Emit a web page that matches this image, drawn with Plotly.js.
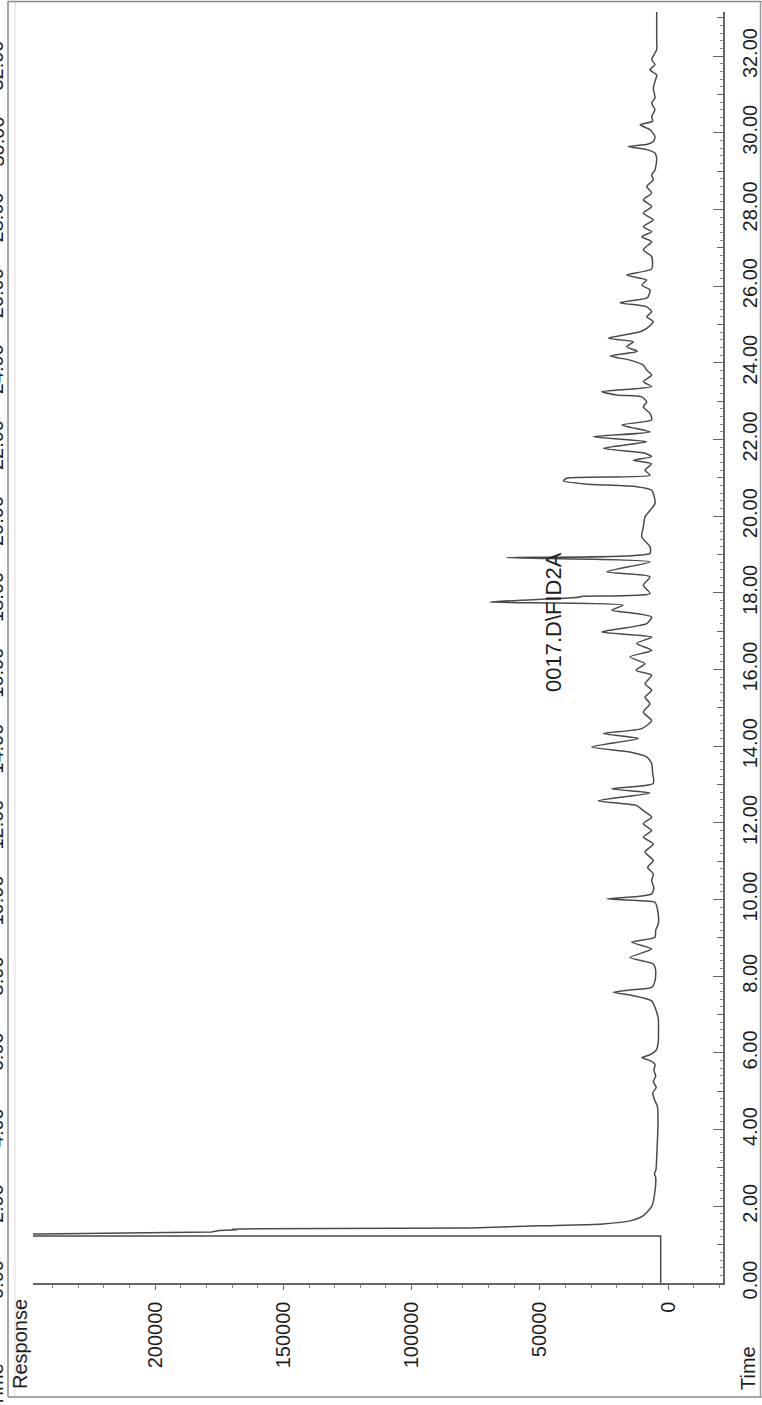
<!DOCTYPE html>
<html>
<head>
<meta charset="utf-8">
<script src="https://cdn.plot.ly/plotly-3.0.1.min.js"></script>
<style>html,body{margin:0;padding:0;background:#fff;}#chart{width:762px;height:1405px;}</style>
</head>
<body>
<div id="chart"></div>
<script>
// ---- data ----
const sampleName = "0017.D\\FID2A";
const timeMin = [
  0, 1.22, 1.226, 1.228, 1.279, 1.33, 1.37, 1.39, 1.40, 1.415, 1.436, 1.49, 1.54, 1.62, 1.75, 2.01, 2.40,
  2.75, 2.85, 2.95, 3.26, 3.6, 4.15, 4.6, 4.75, 4.96, 5.1, 5.25, 5.4, 5.55, 5.70, 5.80, 5.88, 5.94, 6.02, 6.1,
  6.3, 6.6, 6.9, 7.19, 7.36, 7.50, 7.58, 7.64, 7.71, 7.88, 8.15, 8.32, 8.49, 8.71, 8.89, 9.02, 9.2, 9.37, 9.6,
  9.93, 9.97, 10.02, 10.08, 10.15, 10.3, 10.50, 10.67, 10.84, 11.02, 11.24, 11.45, 11.63, 11.80, 11.98, 12.15,
  12.32, 12.45, 12.58, 12.78, 12.89, 13.03, 13.3, 13.55, 13.72, 13.85, 13.98, 14.20, 14.33, 14.46, 14.67, 14.89,
  15.11, 15.28, 15.46, 15.63, 15.85, 15.98, 16.15, 16.33, 16.5, 16.68, 16.85, 16.98, 17.2, 17.37, 17.46, 17.55,
  17.68, 17.76, 17.88, 17.91, 17.98, 18.2, 18.42, 18.55, 18.81, 18.92, 19.03, 19.20, 19.46, 19.72, 19.98, 20.33,
  20.59, 20.68, 20.77, 20.84, 20.92, 20.99, 21.07, 21.2, 21.37, 21.46, 21.55, 21.64, 21.77, 21.94, 22.07, 22.20,
  22.38, 22.51, 22.68, 22.85, 22.98, 23.11, 23.16, 23.25, 23.38, 23.51, 23.68, 23.81, 23.94, 24.07, 24.18, 24.30,
  24.42, 24.55, 24.64, 24.81, 24.90, 25.07, 25.20, 25.33, 25.46, 25.57, 25.70, 25.90, 26.03, 26.16, 26.29, 26.45,
  26.77, 26.95, 27.16, 27.29, 27.42, 27.55, 27.73, 27.90, 28.08, 28.25, 28.43, 28.60, 28.77, 28.90, 29.03, 29.30,
  29.47, 29.56, 29.64, 29.70, 29.77, 29.90, 30.08, 30.21, 30.30, 30.43, 30.60, 30.78, 30.91, 31.17, 31.34, 31.51,
  31.64, 31.78, 31.91, 32.17, 32.43, 32.8, 33.15
];
const response = [
  2850, 2850, 2850, 1500000, 245000, 178000, 175000, 168000, 170000, 160000, 77000, 49900, 25400, 14800, 9750, 6240, 5070,
  4800, 5300, 4700, 4420, 4200, 3900, 4100, 5070, 5970, 4600, 5700, 4800, 5500, 5070, 7000, 10260, 7500, 5400, 4400,
  3780, 3700, 3800, 5070, 6360, 14000, 21330, 15000, 6360, 5070, 4800, 5730, 14820, 6360, 14160, 5070, 4800, 3780, 3780,
  5070, 10000, 23910, 12000, 6360, 5500, 6360, 5730, 7950, 5730, 8970, 5730, 9630, 6360, 9630, 6360,
  9630, 12210, 27180, 7020, 21960, 5730, 6000, 6360, 8310, 14820, 29760, 11580, 25230, 10260, 6360, 9630,
  7020, 8970, 6360, 8970, 6360, 12500, 8970, 14820, 6360, 12210, 6360, 25860, 8310, 6360, 12210, 21960,
  17430, 69420, 36000, 33000, 7020, 9630, 7020, 23910, 7020, 62910, 7020, 7020, 10260, 9630, 8970, 5070,
  5730, 6360, 12210, 32570, 40830, 39500, 7020, 8970, 6360, 13530, 6360, 8970, 25230, 8310, 29130, 7020,
  18000, 6360, 7020, 9630, 8310, 10260, 20010, 25860, 6360, 9630, 6360, 8310, 9630, 14820, 22620, 12000,
  16110, 13530, 23280, 10920, 8310, 5730, 8310, 6360, 8310, 18720, 8000, 7020, 10260, 8310, 16110, 6360,
  6360, 9630, 6360, 10260, 6360, 9630, 5730, 9630, 6360, 9630, 6360, 8310, 5730, 6360, 5070, 4410,
  5070, 8310, 15480, 8000, 5730, 5070, 7020, 10920, 6000, 6360, 5070, 6360, 5070, 5730, 5070, 4410,
  7020, 5070, 6360, 4410, 4410, 4410, 4410
];
const timeTickVals = [0,2,4,6,8,10,12,14,16,18,20,22,24,26,28,30,32];
const timeTickText = ["0.00","2.00","4.00","6.00","8.00","10.00","12.00","14.00","16.00","18.00","20.00","22.00","24.00","26.00","28.00","30.00","32.00"];
const respTickVals = [0,50000,100000,150000,200000];
const respTickText = ["0","50000","100000","150000","200000"];
const responseLabel = "Response";
const timeLabel = "Time";

// ---- layout geometry (pixels) ----
const W = 762, H = 1405;
const L = 33, R = 723, T = 12, B = 1283;
const px2x = p => (p - L) / (R - L);
const py2y = p => (B - p) / (B - T);
const FONT = "Liberation Sans, Arial, sans-serif";
const TXT = "#1e1e1e";
const AX = "#666";
const SPLIT = 10; // solvent front drawn straight, rest smoothed

const traces = [
  {x: response.slice(0, SPLIT + 1), y: timeMin.slice(0, SPLIT + 1), type: "scatter", mode: "lines",
   line: {color: "#4a4a4a", width: 1.5}, hoverinfo: "skip", showlegend: false},
  {x: response.slice(SPLIT), y: timeMin.slice(SPLIT), type: "scatter", mode: "lines",
   line: {color: "#4a4a4a", width: 1.5, shape: "spline", smoothing: 0.6}, hoverinfo: "skip", showlegend: false},
  {x: [], y: [], xaxis: "x", yaxis: "y2", type: "scatter", mode: "lines", showlegend: false}
];

const annotations = [
  {text: responseLabel, x: px2x(20), y: py2y(1344), xref: "paper", yref: "paper", textangle: -90,
   showarrow: false, font: {family: FONT, size: 20, color: TXT}, xanchor: "center", yanchor: "middle"},
  {text: timeLabel, x: px2x(748), y: py2y(1368), xref: "paper", yref: "paper", textangle: -90,
   showarrow: false, font: {family: FONT, size: 20, color: TXT}, xanchor: "center", yanchor: "middle"},
  {text: sampleName, x: px2x(553), y: py2y(622), xref: "paper", yref: "paper", textangle: -90,
   showarrow: false, font: {family: FONT, size: 22, color: TXT}, xanchor: "center", yanchor: "middle"}
];
// cut-off header strip at the left page edge
const stripCenters = timeTickVals.map(v => 1280 - (v / 2) * 75.9);
timeTickText.forEach((t, i) => {
  annotations.push({text: t, x: px2x(-4), y: py2y(stripCenters[i]), xref: "paper", yref: "paper",
    textangle: -90, showarrow: false, font: {family: FONT, size: 20, color: TXT},
    xanchor: "center", yanchor: "middle"});
});
annotations.push({text: timeLabel, x: px2x(-4), y: py2y(1385), xref: "paper", yref: "paper",
  textangle: -90, showarrow: false, font: {family: FONT, size: 20, color: TXT},
  xanchor: "center", yanchor: "middle"});

const line = (x0, y0, x1, y1, c, w) => ({type: "line", xref: "paper", yref: "paper",
  x0: px2x(x0), y0: py2y(y0), x1: px2x(x1), y1: py2y(y1), line: {color: c, width: w}});
const shapes = [
  line(8, 1, 8, 1397, "#8a8a8a", 1.5),
  line(15, 1, 15, 1397, "#dddddd", 1),
  line(8, 1.5, 762, 1.5, "#8a8a8a", 1.5),
  line(8, 1397, 762, 1397, "#8a8a8a", 1.5),
  line(760.5, 1, 760.5, 1397, "#9a9a9a", 1.5)
];

const layout = {
  width: W, height: H,
  margin: {l: L, r: W - R, t: T, b: H - B, pad: 0},
  paper_bgcolor: "#fff", plot_bgcolor: "#fff",
  showlegend: false,
  font: {family: FONT, size: 20, color: TXT},
  xaxis: {
    range: [(668 - L) * 390, (668 - R) * 390],
    showline: true, linecolor: AX, linewidth: 1.5,
    ticks: "outside", ticklen: 5, tickcolor: AX, tickwidth: 1,
    tickmode: "array", tickvals: respTickVals, ticktext: respTickText,
    tickangle: -90, tickfont: {family: FONT, size: 20, color: TXT},
    ticklabelstandoff: 4,
    minor: {tickmode: "linear", tick0: 0, dtick: 10000, ticks: "outside", ticklen: 3, tickcolor: "#888"},
    showgrid: false, zeroline: false, fixedrange: true
  },
  yaxis: {
    range: [0, 33.15], side: "right",
    showline: true, linecolor: AX, linewidth: 1.5,
    ticks: "inside", ticklen: 10, tickcolor: AX, tickwidth: 1,
    tickmode: "array", tickvals: timeTickVals, ticktext: timeTickText,
    tickangle: -90, tickfont: {family: FONT, size: 20, color: TXT},
    ticklabelstandoff: 8,
    minor: {tickmode: "linear", tick0: 0, dtick: 0.2, ticks: "inside", ticklen: 3, tickcolor: "#888"},
    showgrid: false, zeroline: false, fixedrange: true
  },
  yaxis2: {
    range: [0, 33.15], side: "right", overlaying: "y", anchor: "x",
    showline: false, ticks: "inside", ticklen: 6, tickcolor: AX, tickwidth: 1,
    tickmode: "linear", tick0: 0, dtick: 1, showticklabels: false,
    showgrid: false, zeroline: false, fixedrange: true
  },
  annotations: annotations,
  shapes: shapes
};

Plotly.newPlot("chart", traces, layout, {displayModeBar: false, staticPlot: true});
</script>
</body>
</html>
